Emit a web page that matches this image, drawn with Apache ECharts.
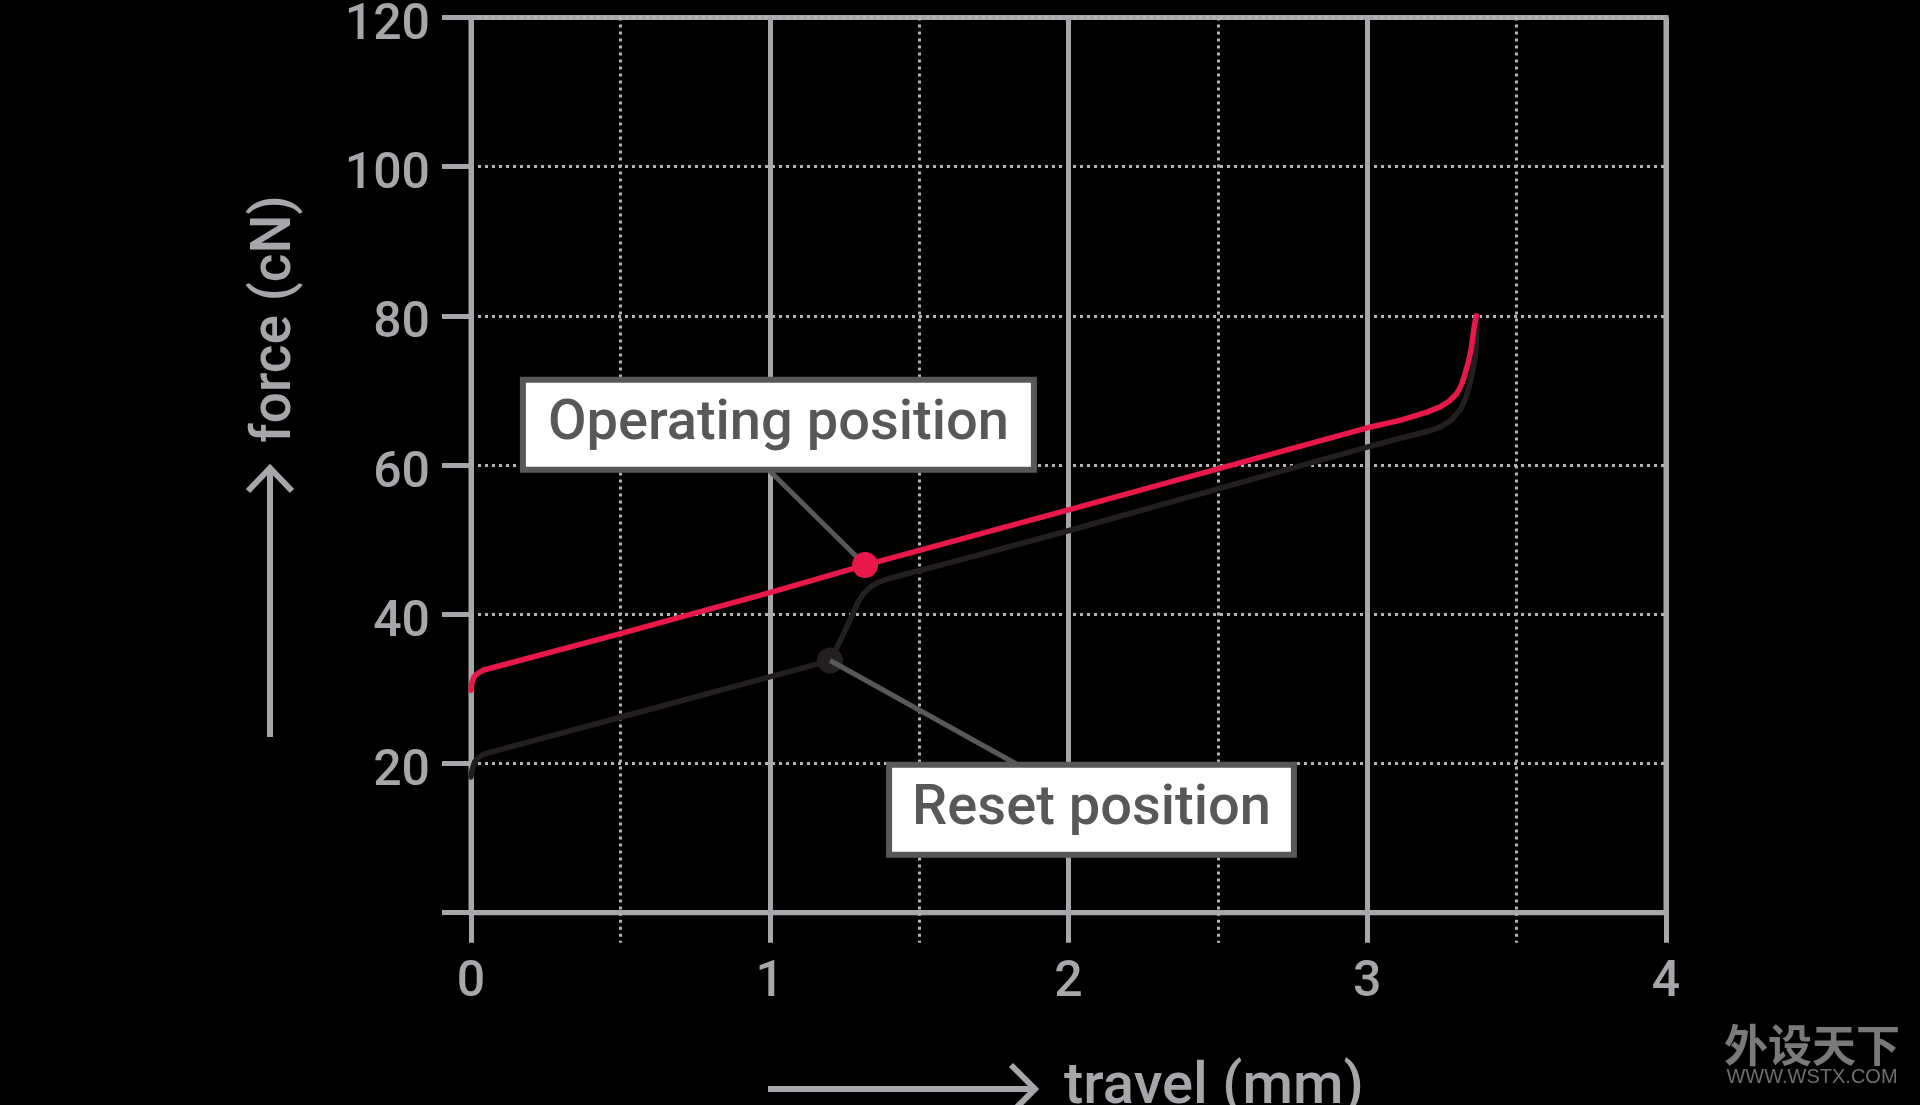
<!DOCTYPE html>
<html>
<head>
<meta charset="utf-8">
<title>force / travel</title>
<script src="https://cdn.jsdelivr.net/npm/echarts@6/dist/echarts.min.js"></script>
<style>
  html, body { margin: 0; padding: 0; background: #000; }
  #chart { width: 1920px; height: 1105px; }
</style>
</head>
<body>
<div id="chart"></div>
<script>
// values (travel in mm, force in cN)
const operatingTravel = [0, 0.003, 0.01, 0.02, 0.04, 0.5, 1.0, 1.319, 2.0, 2.5, 3.0, 3.11, 3.2, 3.244, 3.275, 3.30, 3.316, 3.328, 3.339, 3.347, 3.353, 3.358, 3.362, 3.365];
const operatingForce = [29.8, 30.8, 31.6, 32.0, 32.5, 37.4, 42.9, 46.6, 54.0, 59.5, 65.0, 66.0, 67.1, 67.8, 68.6, 69.6, 70.8, 72.3, 73.9, 75.4, 77.0, 78.6, 79.4, 80.0];

const resetTravel = [0, 0.004, 0.012, 0.025, 0.045, 0.5, 1.0, 1.202, 1.24, 1.274, 1.295, 1.314, 1.335, 1.358, 1.40, 1.6, 2.0, 2.5, 3.0, 3.11, 3.2, 3.244, 3.28, 3.311, 3.33, 3.344, 3.354, 3.361, 3.365, 3.367, 3.368];
const resetForce = [18.2, 19.2, 20.2, 20.8, 21.3, 26.2, 31.6, 33.8, 36.8, 39.7, 41.6, 42.8, 43.6, 44.2, 44.8, 46.9, 51.2, 56.8, 62.4, 63.6, 64.5, 65.1, 66.0, 67.4, 69.0, 71.0, 72.8, 74.5, 76.5, 78.6, 80.0];

const operatingPoint = [1.319, 46.6];
const resetPoint = [1.202, 33.8];

const annotationTexts = ["Operating position", "Reset position"];
const axisNames = ["travel (mm)", "force (cN)"];

const AXIS = "#a7a7ab";
const DOT = "#b4b4b7";
const RED = "#e8194a";
const DARK = "#231f20";
const BOX = "#58585a";
const FONT = "Roboto";

const zip = (xs, ys) => xs.map((x, i) => [x, ys[i]]);

const chart = echarts.init(document.getElementById("chart"));

const dotted = { color: DOT, width: 3, type: [3, 4] };

const option = {
  backgroundColor: "#000",
  animation: false,
  grid: {
    left: 471,
    right: 254,
    top: 17.5,
    bottom: 192.3,
    containLabel: false,
    outerBoundsMode: "none",
    show: true,
    borderColor: AXIS,
    borderWidth: 5,
    backgroundColor: "transparent",
  },
  xAxis: {
    type: "value",
    min: 0,
    max: 4,
    interval: 1,
    axisLine: { show: true, onZero: false, lineStyle: { color: AXIS, width: 5 } },
    axisTick: { show: true, length: 30, lineStyle: { color: AXIS, width: 5 } },
    minorTick: { show: true, splitNumber: 2, length: 30, lineStyle: dotted },
    axisLabel: { color: AXIS, fontSize: 50, fontWeight: 500, fontFamily: FONT, margin: 46, showMinLabel: true, showMaxLabel: true },
    splitLine: { show: true, lineStyle: { color: AXIS, width: 5 } },
    minorSplitLine: { show: true, lineStyle: dotted },
  },
  yAxis: {
    type: "value",
    min: 0,
    max: 120,
    interval: 20,
    axisLine: { show: true, onZero: false, lineStyle: { color: AXIS, width: 5 } },
    axisTick: { show: true, length: 29, lineStyle: { color: AXIS, width: 5 } },
    axisLabel: {
      color: AXIS,
      fontSize: 50,
      fontWeight: 500,
      fontFamily: FONT,
      margin: 41,
      verticalAlign: "top",
      lineHeight: 18,
      formatter: (v) => (v === 0 ? "" : String(v)),
    },
    splitLine: { show: true, lineStyle: dotted },
  },
  series: [
    {
      // leader to operating point (under the dot)
      type: "line",
      data: [[1.0, 59.2], operatingPoint],
      symbol: "none",
      lineStyle: { color: BOX, width: 5 },
      z: 2,
      silent: true,
    },
    {
      type: "line",
      name: "reset",
      data: zip(resetTravel, resetForce),
      symbol: "none",
      lineStyle: { color: DARK, width: 5.5, join: "round", cap: "round" },
      z: 3,
    },
    {
      type: "line",
      name: "operating",
      data: zip(operatingTravel, operatingForce),
      symbol: "none",
      lineStyle: { color: RED, width: 5.5, join: "round", cap: "round" },
      z: 4,
    },
    {
      type: "scatter",
      data: [
        { value: operatingPoint, itemStyle: { color: RED } },
        { value: resetPoint, itemStyle: { color: DARK } },
      ],
      symbolSize: 26,
      itemStyle: { opacity: 1 },
      z: 4,
    },
    {
      // leader from reset point (drawn over the dot)
      type: "line",
      data: [resetPoint, [1.827, 19.9]],
      symbol: "none",
      lineStyle: { color: BOX, width: 5 },
      z: 5,
      silent: true,
    },
    {
      type: "scatter",
      symbolSize: 1,
      itemStyle: { color: "rgba(0,0,0,0)", opacity: 1 },
      z: 10,
      label: {
        show: true,
        position: "inside",
        formatter: "{b}",
        color: BOX,
        fontSize: 56,
        fontWeight: 500,
        fontFamily: FONT,
        lineHeight: 56,
        backgroundColor: "#fff",
        borderColor: BOX,
        borderWidth: 6,
        opacity: 1,
      },
      data: [
        { name: annotationTexts[0], value: [1.029, 65.4], label: { padding: [14, 22] } },
        { name: annotationTexts[1], value: [2.077, 13.8], label: { padding: [14, 20] } },
      ],
    },
  ],
  graphic: [
    // y axis arrow and name
    { type: "polyline", shape: { points: [[270, 737], [270, 468]] }, style: { stroke: AXIS, lineWidth: 6, fill: null } },
    { type: "polyline", shape: { points: [[248, 491], [270, 468], [292, 491]] }, style: { stroke: AXIS, lineWidth: 6, fill: null } },
    {
      type: "text",
      x: 276,
      y: 319,
      rotation: Math.PI / 2,
      style: { text: axisNames[1], fill: AXIS, fontSize: 55, fontWeight: 500, fontFamily: FONT, align: "center", verticalAlign: "middle" },
    },
    // x axis arrow and name
    { type: "polyline", shape: { points: [[768, 1089], [1034, 1089]] }, style: { stroke: AXIS, lineWidth: 6, fill: null } },
    { type: "polyline", shape: { points: [[1011, 1065], [1035, 1089], [1011, 1113]] }, style: { stroke: AXIS, lineWidth: 6, fill: null } },
    {
      type: "text",
      x: 1064,
      y: 1088,
      style: { text: axisNames[0], fill: AXIS, fontSize: 58, fontWeight: 500, fontFamily: FONT, align: "left", verticalAlign: "middle" },
    },
    // watermark
    {
      type: "text",
      x: 1812,
      y: 1045,
      style: { text: "外设天下", fill: "#7a7a7a", fontSize: 44, fontWeight: "bold", fontFamily: "Noto Sans CJK SC", align: "center", verticalAlign: "middle" },
    },
    {
      type: "text",
      x: 1812,
      y: 1077,
      style: { text: "WWW.WSTX.COM", fill: "#6e6e6e", fontSize: 20, fontFamily: "Liberation Sans", align: "center", verticalAlign: "middle" },
    },
  ],
};

chart.setOption(option);
</script>
</body>
</html>
